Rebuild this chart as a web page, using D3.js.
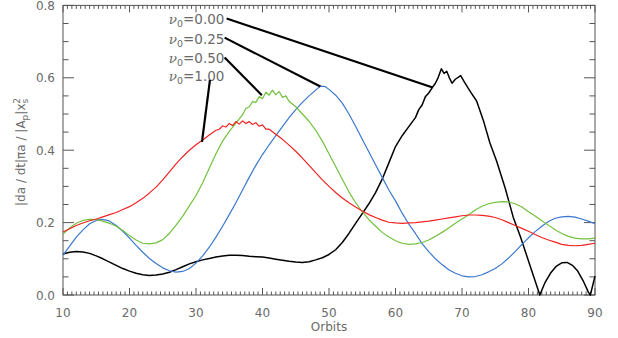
<!DOCTYPE html>
<html><head><meta charset="utf-8">
<script src="https://cdn.jsdelivr.net/npm/d3@7"></script>
<style>body{margin:0;background:#fff}svg{display:block}text{font-family:"DejaVu Sans",sans-serif;fill:#6a6a6a}</style>
</head><body><svg id="c" width="618" height="338"></svg>
<script>
// ---- data ----
const xTicks = [10,20,30,40,50,60,70,80,90];
const yTicks = [0.0,0.2,0.4,0.6,0.8];
const seriesNames = ["0.00","0.25","0.50","1.00"];
const seriesColors = ["#000000","#3b78cf","#72c23e","#f22222"];

const orbitsBlack = [10,11,12,13,14,15,16,17,18,19,20,21,22,23,24,25,26,27,28,29,30,31,32,33,34,35,36,37,38,39,40,41,42,43,44,45,46,47,48,49,50,51,52,53,54,55,56,57,58,59,60,61,62,63,63.5,64,64.5,65,65.5,66,66.4,66.9,67.3,67.7,68.1,68.5,69,69.8,70.3,70.9,71.5,72.2,73.2,74.2,75.2,76.5,77.7,78.8,79.8,80.8,81.7,82.5,83.3,84.2,85,85.8,86.6,87.4,88.2,89,89.3,90];
const valuesBlack = [0.113,0.118,0.120,0.119,0.115,0.108,0.100,0.091,0.082,0.073,0.066,0.060,0.056,0.054,0.055,0.058,0.063,0.070,0.078,0.086,0.092,0.097,0.101,0.105,0.108,0.110,0.110,0.109,0.107,0.106,0.105,0.102,0.099,0.096,0.093,0.091,0.090,0.092,0.097,0.103,0.112,0.125,0.145,0.170,0.198,0.225,0.252,0.283,0.320,0.365,0.410,0.440,0.465,0.490,0.512,0.525,0.548,0.558,0.572,0.585,0.600,0.625,0.612,0.618,0.600,0.585,0.596,0.606,0.590,0.572,0.555,0.536,0.483,0.420,0.370,0.295,0.215,0.160,0.105,0.050,0.000,0.035,0.060,0.080,0.089,0.090,0.082,0.066,0.040,0.008,0.000,0.052];

const orbitsBlue = [10,11,12,13,14,15,15.8,16.5,17,18,19,20,21,22,23,24,25,26,27,28,29,30,31,32,33,34,35,36,37,38,39,40,41,42,43,44,45,46,47,48,48.7,49.4,50,51,52,53,54,55,56,57,58,59,60,61,62,63,64,65,66,67,68,69,70,71,72,73,74,75,76,77,78,79,80,81,82,83,84,85,86,87,88,89,90];
const valuesBlue = [0.110,0.135,0.160,0.180,0.197,0.206,0.209,0.207,0.204,0.192,0.176,0.157,0.137,0.118,0.101,0.087,0.075,0.067,0.063,0.065,0.073,0.088,0.108,0.132,0.160,0.190,0.222,0.255,0.290,0.325,0.358,0.388,0.415,0.440,0.465,0.490,0.512,0.532,0.550,0.566,0.577,0.576,0.568,0.552,0.530,0.500,0.466,0.430,0.395,0.360,0.325,0.290,0.260,0.226,0.196,0.170,0.142,0.120,0.100,0.084,0.070,0.060,0.053,0.050,0.051,0.056,0.064,0.073,0.086,0.102,0.120,0.140,0.158,0.175,0.190,0.203,0.212,0.216,0.217,0.215,0.210,0.204,0.197];

const orbitsGreen = [10,11,12,13,14,15,16,17,18,19,20,21,22,23,24,25,26,27,28,29,30,31,32,33,34,35,36,37,37.5,38,38.5,39,39.5,40,40.5,41,41.5,42,42.5,43,43.5,44,45,46,47,48,49,50,51,52,53,54,55,56,57,58,59,60,61,62,63,64,65,66,67,68,69,70,71,72,73,74,75,76,77,78,79,80,81,82,83,84,85,86,87,88,89,90];
const valuesGreen = [0.168,0.185,0.198,0.206,0.209,0.208,0.204,0.198,0.190,0.178,0.164,0.152,0.143,0.141,0.144,0.153,0.170,0.193,0.218,0.246,0.275,0.310,0.350,0.390,0.425,0.452,0.475,0.498,0.515,0.520,0.534,0.532,0.548,0.542,0.560,0.552,0.566,0.553,0.562,0.546,0.550,0.535,0.520,0.500,0.480,0.455,0.425,0.390,0.355,0.320,0.285,0.255,0.230,0.208,0.190,0.173,0.160,0.150,0.143,0.140,0.141,0.145,0.152,0.162,0.173,0.185,0.198,0.210,0.222,0.235,0.245,0.252,0.256,0.258,0.257,0.252,0.243,0.230,0.218,0.205,0.193,0.180,0.170,0.162,0.157,0.155,0.155,0.157];

const orbitsRed = [10,11,12,13,14,15,16,17,18,19,20,21,22,23,24,25,26,27,28,29,30,31,32,33,33.5,34,34.5,35,35.5,36,36.5,37,37.5,38,38.5,39,39.5,40,40.5,41,42,43,44,45,46,47,48,49,50,51,52,53,54,55,56,57,58,59,60,61,62,63,64,65,66,67,68,69,70,71,72,73,74,75,76,77,78,79,80,81,82,83,84,85,86,87,88,89,90];
const valuesRed = [0.174,0.183,0.192,0.199,0.205,0.210,0.216,0.222,0.228,0.236,0.244,0.255,0.267,0.282,0.298,0.318,0.340,0.362,0.382,0.400,0.415,0.428,0.442,0.455,0.458,0.467,0.464,0.474,0.468,0.479,0.472,0.481,0.474,0.479,0.471,0.476,0.466,0.470,0.458,0.458,0.444,0.430,0.414,0.397,0.378,0.358,0.338,0.318,0.300,0.283,0.268,0.255,0.243,0.232,0.222,0.214,0.207,0.201,0.199,0.198,0.199,0.200,0.202,0.204,0.207,0.210,0.213,0.216,0.219,0.221,0.221,0.220,0.218,0.214,0.208,0.200,0.192,0.184,0.176,0.167,0.159,0.152,0.146,0.140,0.137,0.136,0.137,0.140,0.143];

// label anchor positions (data units) and leader targets (orbit, value)
const labelOrbit = 25.9;
const labelValues = [0.762, 0.708, 0.656, 0.606];
const leaderStart = [[34.6,0.764],[34.3,0.711],[34.3,0.656],[32.1,0.594]];
const leaderEnd = [[65.6,0.573],[48.7,0.576],[39.9,0.552],[30.9,0.423]];

// ---- drawing ----
const svg = d3.select("#c");
const m = {l:63, r:595, t:5.4, b:295};
const x = d3.scaleLinear().domain([10,90]).range([m.l,m.r]);
const y = d3.scaleLinear().domain([0,0.8]).range([m.b,m.t]);
const axisCol = "#555";

const xMinor = d3.range(0,121).map(i=>10+i*80/120);
const yMinor = d3.range(0,17).map(i=>i*0.05);
const g = svg.append("g");
g.append("rect").attr("x",m.l).attr("y",m.t).attr("width",m.r-m.l).attr("height",m.b-m.t)
 .attr("fill","none").attr("stroke",axisCol).attr("stroke-width",1);
xMinor.forEach(v=>{
  const isMajor = xTicks.some(t=>Math.abs(t-v)<1e-6);
  const L = isMajor?7:3.5;
  g.append("line").attr("x1",x(v)).attr("x2",x(v)).attr("y1",m.b).attr("y2",m.b-L).attr("stroke",axisCol);
  g.append("line").attr("x1",x(v)).attr("x2",x(v)).attr("y1",m.t).attr("y2",m.t+L).attr("stroke",axisCol);
});
yMinor.forEach(v=>{
  const isMajor = yTicks.some(t=>Math.abs(t-v)<1e-6);
  const L = isMajor?11:5.5;
  g.append("line").attr("x1",m.l).attr("x2",m.l+L).attr("y1",y(v)).attr("y2",y(v)).attr("stroke",axisCol);
  g.append("line").attr("x1",m.r).attr("x2",m.r-L).attr("y1",y(v)).attr("y2",y(v)).attr("stroke",axisCol);
});
g.selectAll(".xt").data(xTicks).join("text").attr("x",d=>x(d)).attr("y",317)
 .attr("text-anchor","middle").attr("font-size",12).text(d=>d);
g.selectAll(".yt").data(yTicks).join("text").attr("x",55).attr("y",d=>y(d)+4.5)
 .attr("text-anchor","end").attr("font-size",12).text(d=>d.toFixed(1));
g.append("text").attr("x",(m.l+m.r)/2).attr("y",331).attr("text-anchor","middle").attr("font-size",12).text("Orbits");

const yt = svg.append("text").attr("transform","translate(25,152) rotate(-90)").attr("text-anchor","middle").attr("font-size",12);
yt.append("tspan").text("|da / dt|πa / |A");
yt.append("tspan").attr("font-size",9).attr("dy",3).text("p");
yt.append("tspan").attr("dy",-3).text("|x");
yt.append("tspan").attr("font-size",9).attr("dy",3).text("s");
yt.append("tspan").attr("font-size",9).attr("dx",-5).attr("dy",-8).text("2");

const series = [
  {o:orbitsBlack, v:valuesBlack, w:1.5},
  {o:orbitsBlue, v:valuesBlue, w:1.2},
  {o:orbitsGreen, v:valuesGreen, w:1.2},
  {o:orbitsRed, v:valuesRed, w:1.2}
];
const line = d3.line().x(d=>x(d[0])).y(d=>y(d[1])).curve(d3.curveLinear);
series.forEach((s,i)=>{
  svg.append("path").attr("d",line(s.o.map((o,j)=>[o,s.v[j]])))
    .attr("fill","none").attr("stroke",seriesColors[i]).attr("stroke-width",s.w).attr("stroke-linejoin","round");
});

seriesNames.forEach((n,i)=>{
  const t = svg.append("text").attr("x",x(labelOrbit)).attr("y",y(labelValues[i])+5).attr("font-size",13.5);
  t.append("tspan").attr("font-family","DejaVu Serif").attr("font-style","italic").text("ν");
  t.append("tspan").attr("font-size",9.5).attr("dy",3).text("0");
  t.append("tspan").attr("dy",-3).text("="+n);
  svg.append("line").attr("x1",x(leaderStart[i][0])).attr("y1",y(leaderStart[i][1]))
    .attr("x2",x(leaderEnd[i][0])).attr("y2",y(leaderEnd[i][1]))
    .attr("stroke","#000").attr("stroke-width",2.2);
});
</script></body></html>
